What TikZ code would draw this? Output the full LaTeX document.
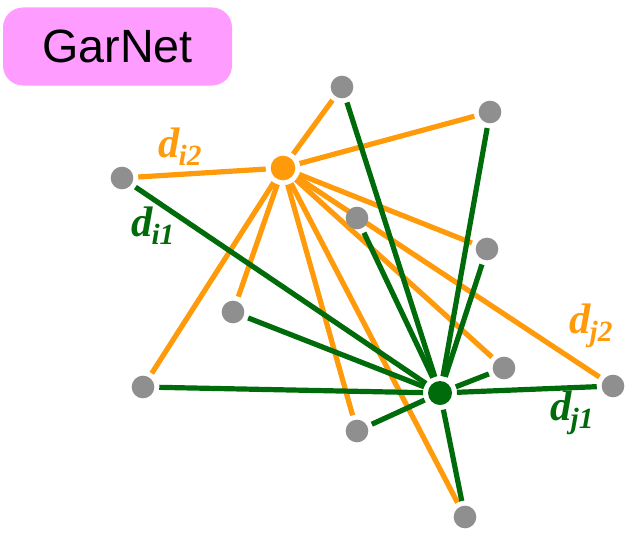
\documentclass[tikz,border=0pt]{standalone}
\usepackage{fontspec}
\setmainfont{Liberation Sans}
\newfontfamily\serifbi{Liberation Serif}
\usetikzlibrary{backgrounds}
\definecolor{Naranja}{HTML}{FF9A0A}
\definecolor{Verde}{HTML}{006B0A}
\definecolor{Gris}{HTML}{8F8F8F}
\definecolor{Rosa}{HTML}{FF9CFF}
\newcommand{\dist}[1]{{\serifbi\bfseries\itshape d\kern-1pt\raisebox{-6pt}{\fontsize{22}{25}\selectfont #1}}}

\begin{document}
\begin{tikzpicture}[
    x=0.75pt,y=-0.75pt,
    sample/.style={circle,fill=Gris,inner sep=0pt,minimum size=17pt},
    hubi/.style={circle,fill=Naranja,inner sep=0pt,minimum size=18.5pt},
    hubj/.style={circle,fill=Verde,inner sep=0pt,minimum size=18pt},
    wirei/.style={draw=Naranja,line width=3.9pt,shorten <=3.5pt,shorten >=3.5pt},
    wirej/.style={draw=Verde,line width=3.9pt,shorten <=3.5pt,shorten >=3.5pt},
    lab/.style={font=\fontsize{32}{36}\selectfont,inner sep=0pt},
    title/.style={fill=Rosa,rounded corners=15pt,minimum width=171.75pt,minimum height=58.5pt,font=\fontsize{35}{40}\selectfont}
  ]
    \useasboundingbox (0,0) rectangle (630,535);
    \node[title] (name) at (117.5,46.5) {GarNet};
    % hubs
    \node[hubi] (vi) at (283,168) {};
    \node[hubj] (vj) at (440,393) {};
    % samples
    \node[sample] (top) at (342,87) {};
    \node[sample] (topright) at (490,112) {};
    \node[sample] (farleft) at (122,178) {};
    \node[sample] (mid) at (357,218) {};
    \node[sample] (right) at (487,249) {};
    \node[sample] (left) at (233,312) {};
    \node[sample] (nearright) at (504,368) {};
    \node[sample] (lowleft) at (143,387) {};
    \node[sample] (farright) at (613,386) {};
    \node[sample] (low) at (357,431) {};
    \node[sample] (bottom) at (465,517) {};
    % distances
    \node[lab,text=Naranja] (di2) at (180,147) {\dist{i2}};
    \node[lab,text=Verde] (di1) at (153,226) {\dist{i1}};
    \node[lab,text=Naranja] (dj2) at (591,326) {\dist{j2}};
    \node[lab,text=Verde] (dj1) at (572,413) {\dist{j1}};
    \begin{scope}[on background layer]
      \path (vi) edge[wirei] (top) edge[wirei] (topright) edge[wirei] (farleft)
                 edge[wirei] (right) edge[wirei] (left) edge[wirei] (nearright)
                 edge[wirei] (lowleft) edge[wirei] (farright) edge[wirei] (low)
                 edge[wirei] (bottom);
      \path (vj) edge[wirej] (top) edge[wirej] (topright) edge[wirej] (farleft)
                 edge[wirej] (mid) edge[wirej] (right) edge[wirej] (left)
                 edge[wirej] (nearright) edge[wirej] (lowleft) edge[wirej] (farright)
                 edge[wirej] (low) edge[wirej] (bottom);
    \end{scope}
  \end{tikzpicture}
\end{document}
